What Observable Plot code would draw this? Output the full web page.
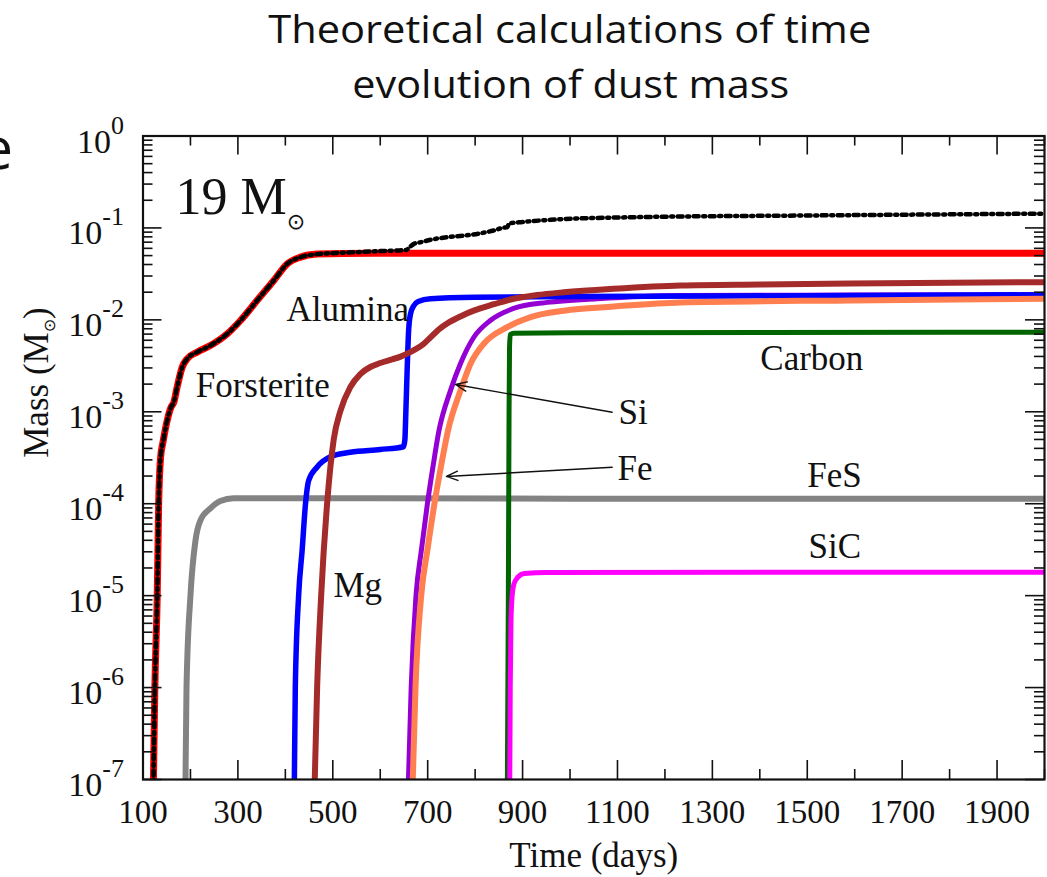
<!DOCTYPE html>
<html>
<head>
<meta charset="utf-8">
<script src="https://cdn.jsdelivr.net/npm/d3@7"></script>
<script src="https://cdn.jsdelivr.net/npm/@observablehq/plot@0.6"></script>
<style>
  html, body { margin: 0; padding: 0; background: #fff; }
  #chart svg { display: block; }
</style>
</head>
<body>
<div id="chart"></div>
<script>
// ---------------- data ----------------
const titleLines = ["Theoretical calculations of time", "evolution of dust mass"];
const xLabel = "Time (days)";
const yLabel = "Mass (M⊙)";
const massLabel = "19 M⊙";

const xMajorTicks = [100, 300, 500, 700, 900, 1100, 1300, 1500, 1700, 1900];
const xMinorTicks = [200, 400, 600, 800, 1000, 1200, 1400, 1600, 1800, 2000];
const yMajorTicks = [1e-7, 1e-6, 1e-5, 1e-4, 1e-3, 1e-2, 1e-1, 1];
const yTickExponents = ["-7", "-6", "-5", "-4", "-3", "-2", "-1", "0"];
const yMinorFactors = [2, 3, 4, 5, 6, 7, 8, 9];

// Forsterite (red)
const forsteriteDays = [119, 122, 125, 130, 133, 137, 142.5, 151, 159, 165, 172, 182.6, 193, 214, 242, 277.5, 305.5, 340.7, 375.7, 404, 432, 467, 520, 700, 1200, 2000];
const forsteriteMass = [1e-8, 1e-7, 1e-6, 1e-5, 1e-4, 3.16e-4, 4.79e-4, 8.04e-4, 1.12e-3, 1.27e-3, 1.86e-3, 3.05e-3, 3.77e-3, 4.45e-3, 5.26e-3, 7.05e-3, 9.84e-3, 1.63e-2, 2.68e-2, 4.07e-2, 4.81e-2, 5.19e-2, 5.28e-2, 5.31e-2, 5.31e-2, 5.31e-2];

// Total (black dash-dot)
const totalDays = [119, 122, 125, 130, 133, 137, 142.5, 151, 159, 165, 172, 182.6, 193, 214, 242, 277.5, 305.5, 340.7, 375.7, 404, 432, 467, 520, 560, 600, 640, 655, 660, 671, 686, 710, 741, 780, 839, 861, 868, 871, 900, 959, 1139, 1498, 2000];
const totalMass = [1e-8, 1e-7, 1e-6, 1e-5, 1e-4, 3.16e-4, 4.79e-4, 8.04e-4, 1.12e-3, 1.27e-3, 1.86e-3, 3.05e-3, 3.77e-3, 4.45e-3, 5.26e-3, 7.05e-3, 9.84e-3, 1.63e-2, 2.68e-2, 4.07e-2, 4.81e-2, 5.19e-2, 5.37e-2, 5.47e-2, 5.60e-2, 5.69e-2, 5.75e-2, 6.03e-2, 6.71e-2, 7.00e-2, 7.50e-2, 7.93e-2, 8.28e-2, 9.38e-2, 0.101, 0.102, 0.1117, 0.116, 0.1225, 0.131, 0.1365, 0.143];

// Alumina (blue)
const aluminaDays = [415, 419, 421, 428, 435.5, 442.5, 449, 467, 495, 537, 600, 649, 652, 654, 657, 660, 664, 670, 680, 706, 800, 1000, 1500, 2000];
const aluminaMass = [1e-8, 1e-7, 1e-6, 1e-5, 3.16e-5, 1e-4, 1.78e-4, 2.51e-4, 3.24e-4, 3.63e-4, 3.89e-4, 4.17e-4, 5.01e-4, 1e-3, 3.16e-3, 7.94e-3, 1.175e-2, 1.41e-2, 1.585e-2, 1.70e-2, 1.76e-2, 1.79e-2, 1.83e-2, 1.875e-2];

// Mg (brown)
const mgDays = [458, 462, 467, 475.5, 488, 502, 516, 537, 558, 580, 600, 625, 643, 660, 671, 692, 706, 727, 741, 770, 797, 840, 881, 930, 987, 1092, 1233, 1400, 1591, 2000];
const mgMass = [1e-8, 1e-7, 1e-6, 1e-5, 1e-4, 5.01e-4, 1.02e-3, 1.86e-3, 2.57e-3, 3.09e-3, 3.39e-3, 3.72e-3, 3.98e-3, 4.37e-3, 4.68e-3, 5.50e-3, 6.46e-3, 8.13e-3, 9.12e-3, 1.096e-2, 1.259e-2, 1.479e-2, 1.698e-2, 1.862e-2, 1.995e-2, 2.178e-2, 2.366e-2, 2.427e-2, 2.483e-2, 2.57e-2];

// Si (purple)
const siDays = [655, 659.5, 665.2, 675.3, 686.9, 699.5, 711.2, 723.8, 748, 769.2, 797.2, 832, 881, 952, 1057, 1233, 1600, 2000];
const siMass = [1e-8, 1e-7, 1e-6, 9.9e-6, 3.18e-5, 1.01e-4, 2.54e-4, 6.25e-4, 1.70e-3, 3.35e-3, 6.47e-3, 9.84e-3, 1.33e-2, 1.549e-2, 1.698e-2, 1.841e-2, 1.862e-2, 1.884e-2];

// Fe (coral)
const feDays = [664.5, 668.6, 674.3, 686.3, 699.6, 714.4, 728, 742.8, 769.2, 790.3, 818.2, 867.6, 917, 987, 1092, 1233, 1591, 2000];
const feMass = [1e-8, 1e-7, 1e-6, 9.9e-6, 3.18e-5, 1.01e-4, 2.54e-4, 6.25e-4, 1.70e-3, 3.33e-3, 5.50e-3, 8.32e-3, 1.072e-2, 1.259e-2, 1.396e-2, 1.549e-2, 1.626e-2, 1.694e-2];

// Carbon (dark green)
const carbonDays = [867, 870, 871.5, 872.5, 874, 882, 1000, 2000];
const carbonMass = [1e-8, 1e-5, 1e-3, 5.01e-3, 6.92e-3, 7.16e-3, 7.24e-3, 7.35e-3];

// SiC (magenta)
const sicDays = [871, 873, 874, 875.5, 878, 882, 890, 904, 950, 2000];
const sicMass = [1e-8, 1e-7, 1e-6, 5.01e-6, 1e-5, 1.35e-5, 1.585e-5, 1.738e-5, 1.79e-5, 1.80e-5];

// FeS (grey)
const fesDays = [188, 189.6, 191.7, 200, 210.6, 221, 242, 263, 291, 400, 1000, 2000];
const fesMass = [1e-8, 1e-7, 1e-6, 1e-5, 3.98e-5, 6.6e-5, 8.9e-5, 1.07e-4, 1.148e-4, 1.148e-4, 1.135e-4, 1.13e-4];

// in-plot labels
const annotText = ["Forsterite", "Alumina", "Mg", "Carbon", "Si", "Fe", "FeS", "SiC"];
const annotDay  = [211, 402.4, 501.5, 1401, 1102, 1100, 1500, 1502.6];
const annotMass = [1.44e-3, 9.84e-3, 9.6e-6, 2.86e-3, 7.4e-4, 1.82e-4, 1.51e-4, 2.58e-5];
const massLabelDay = 168.5, massLabelMass = 0.14;

// arrows (label -> curve)
const arrowFromDay  = [1088.8, 1088.8];
const arrowFromMass = [9.9e-4, 2.49e-4];
const arrowToDay    = [758.6, 739.6];
const arrowToMass   = [1.98e-3, 1.98e-4];

// ---------------- build ----------------
const zip = (xs, ys) => xs.map((x, i) => ({day: x, mass: ys[i]}));
const series = [
  {key: "FeS", rows: zip(fesDays, fesMass)},
  {key: "Carbon", rows: zip(carbonDays, carbonMass)},
  {key: "SiC", rows: zip(sicDays, sicMass)},
  {key: "Si", rows: zip(siDays, siMass)},
  {key: "Alumina", rows: zip(aluminaDays, aluminaMass)},
  {key: "Fe", rows: zip(feDays, feMass)},
  {key: "Mg", rows: zip(mgDays, mgMass)},
  {key: "Forsterite", rows: zip(forsteriteDays, forsteriteMass)}
];
const styleOf = {
  FeS: {stroke: "#838383", w: 6},
  Carbon: {stroke: "#006400", w: 5},
  SiC: {stroke: "#ff00ff", w: 5},
  Alumina: {stroke: "#0000ff", w: 5.5},
  Si: {stroke: "#9400d3", w: 5},
  Fe: {stroke: "#ff7f50", w: 6},
  Mg: {stroke: "#a52a2a", w: 6},
  Forsterite: {stroke: "#ff0000", w: 7}
};
const yMinorTicks = yMajorTicks.slice(0, -1).flatMap(d => yMinorFactors.map(f => d * f));

const W = 1047, H = 877;
const mL = 142.5, mR = 3, mT = 135.5, mB = 98;
const fw = W - mL - mR, fh = H - mT - mB;
const serif = "'Liberation Serif', 'Times New Roman', Times, serif";
const sans = "'Open Sans', 'Noto Sans', sans-serif";
const tickStroke = {stroke: "#111", strokeWidth: 1.6};

const marks = [];
// data lines
for (const s of series) {
  marks.push(Plot.line(s.rows, {x: "day", y: "mass", stroke: styleOf[s.key].stroke, strokeWidth: styleOf[s.key].w, curve: "monotone-x", clip: true}));
}
marks.push(Plot.line(zip(totalDays, totalMass), {x: "day", y: "mass", stroke: "#000", strokeWidth: 4.5, strokeDasharray: "5,4.5,2,4.5", curve: "monotone-x", clip: true}));

// ticks (inward, both sides)
marks.push(Plot.ruleX(xMajorTicks, {x: d => d, insetTop: fh - 19, ...tickStroke}));
marks.push(Plot.ruleX(xMajorTicks, {x: d => d, insetBottom: fh - 19, ...tickStroke}));
marks.push(Plot.ruleX(xMinorTicks, {x: d => d, insetTop: fh - 10, ...tickStroke}));
marks.push(Plot.ruleX(xMinorTicks, {x: d => d, insetBottom: fh - 10, ...tickStroke}));
marks.push(Plot.ruleY(yMajorTicks, {y: d => d, insetRight: fw - 19, ...tickStroke}));
marks.push(Plot.ruleY(yMajorTicks, {y: d => d, insetLeft: fw - 19, ...tickStroke}));
marks.push(Plot.ruleY(yMinorTicks, {y: d => d, insetRight: fw - 10, ...tickStroke}));
marks.push(Plot.ruleY(yMinorTicks, {y: d => d, insetLeft: fw - 10, ...tickStroke}));
marks.push(Plot.frame({stroke: "#111", strokeWidth: 2.2}));

// tick labels
marks.push(Plot.text(xMajorTicks, {x: d => d, frameAnchor: "bottom", text: d => String(d), dy: 20, lineAnchor: "top", fontSize: 33, fontFamily: serif, fill: "#111"}));
marks.push(Plot.text(yMajorTicks, {y: d => d, frameAnchor: "left", text: yTickExponents, dx: -19, dy: 16.5, textAnchor: "end", lineAnchor: "bottom", fontSize: 34, fontFamily: serif, fill: "#111", className: "ylab"}));

// axis titles
marks.push(Plot.text([xLabel], {frameAnchor: "bottom", text: d => d, dy: 87, lineAnchor: "bottom", fontSize: 35, fontFamily: serif, fill: "#111"}));
marks.push(Plot.text([yLabel], {frameAnchor: "left", text: d => d, rotate: -90, dx: -95.5, lineAnchor: "bottom", fontSize: 35, fontFamily: serif, fill: "#111", className: "sunsmall"}));

// in-plot labels
marks.push(Plot.text(annotText, {x: annotDay, y: annotMass, text: annotText, textAnchor: "start", lineAnchor: "bottom", fontSize: 35, fontFamily: serif, fill: "#111"}));
marks.push(Plot.text([massLabel], {x: [massLabelDay], y: [massLabelMass], text: d => d, textAnchor: "start", lineAnchor: "bottom", fontSize: 52, fontFamily: serif, fill: "#111", className: "sunbig"}));
marks.push(Plot.arrow(arrowFromDay.map((d, i) => i), {x1: i => arrowFromDay[i], y1: i => arrowFromMass[i], x2: i => arrowToDay[i], y2: i => arrowToMass[i], stroke: "#111", strokeWidth: 1.4, headLength: 13, headAngle: 45}));

// title (above the frame) and the cropped slide letter
marks.push(Plot.text([titleLines[0]], {frameAnchor: "top", text: d => d, dx: -24, dy: 42 - mT, lineAnchor: "bottom", fontSize: 38, fontFamily: sans, fill: "#111", className: "title1"}));
marks.push(Plot.text([titleLines[1]], {frameAnchor: "top", text: d => d, dx: -23, dy: 97 - mT, lineAnchor: "bottom", fontSize: 38, fontFamily: sans, fill: "#111", className: "title2"}));
marks.push(Plot.text(["e"], {frameAnchor: "top-left", text: d => d, dx: -mL - 20, dy: 168 - mT, textAnchor: "start", lineAnchor: "bottom", fontSize: 58, fontFamily: sans, fill: "#111"}));

const chart = Plot.plot({
  width: W, height: H,
  marginLeft: mL, marginRight: mR, marginTop: mT, marginBottom: mB,
  x: {domain: [100, 2000], axis: null},
  y: {type: "log", domain: [1e-7, 1], axis: null},
  style: {background: "#fff", fontFamily: serif},
  marks
});
document.getElementById("chart").appendChild(chart);

// ---------------- typographic post-processing ----------------
const svg = d3.select(chart.tagName.toLowerCase() === "svg" ? chart : chart.querySelector("svg"));
svg.selectAll("g.ylab text").each(function () {
  const exp = this.textContent;
  const t = d3.select(this).text(null);
  t.append("tspan").text("10");
  t.append("tspan").attr("dy", -19).attr("font-size", 26).text(exp);
});
function sunify(sel, size, shift) {
  sel.each(function () {
    const parts = this.textContent.split("⊙");
    const t = d3.select(this).text(null);
    t.append("tspan").text(parts[0]);
    t.append("tspan").attr("dy", shift).attr("font-size", size).attr("font-family", "'DejaVu Sans', sans-serif").text("⊙");
    if (parts[1]) t.append("tspan").attr("dy", -shift).text(parts[1]);
  });
}
sunify(svg.selectAll("g.sunbig text"), 22, 15);
sunify(svg.selectAll("g.sunsmall text"), 16, 7);
svg.selectAll("g.title1 text").attr("textLength", 603).attr("lengthAdjust", "spacingAndGlyphs");
svg.selectAll("g.title2 text").attr("textLength", 437).attr("lengthAdjust", "spacingAndGlyphs");
</script>
</body>
</html>
